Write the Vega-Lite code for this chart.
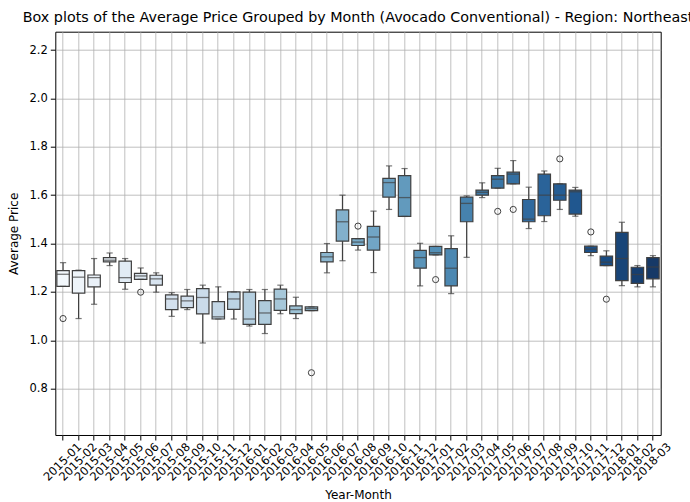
{
  "$schema": "https://vega.github.io/schema/vega-lite/v6.json",
  "autosize": {"type": "none"},
  "padding": {"left": 55.3, "top": 31.7, "right": 29.3, "bottom": 67},
  "width": 605.4,
  "height": 403.3,
  "title": {
    "text": "Box plots of the Average Price Grouped by Month (Avocado Conventional) - Region: Northeast",
    "font": "DejaVu Sans",
    "fontSize": 14.3,
    "fontWeight": "normal",
    "color": "#000000",
    "anchor": "middle",
    "baseline": "bottom",
    "offset": 4,
    "dy": 12
  },
  "config": {
    "view": {"stroke": "#000000", "strokeWidth": 1},
    "axis": {
      "labelFont": "DejaVu Sans",
      "titleFont": "DejaVu Sans",
      "labelFontSize": 11.5,
      "titleFontSize": 12,
      "titleFontWeight": "normal",
      "labelColor": "#000000",
      "titleColor": "#000000",
      "tickColor": "#000000",
      "tickSize": 5,
      "domain": false,
      "grid": true,
      "gridColor": "#b0b0b0",
      "gridWidth": 0.8
    }
  },
  "datasets": {
    "boxes": [
      {"month": "2015-01", "low": 1.223, "q1": 1.223, "median": 1.273, "q3": 1.288, "high": 1.321},
      {"month": "2015-02", "low": 1.09, "q1": 1.195, "median": 1.261, "q3": 1.288, "high": 1.29},
      {"month": "2015-03", "low": 1.149, "q1": 1.221, "median": 1.259, "q3": 1.27, "high": 1.338},
      {"month": "2015-04", "low": 1.309, "q1": 1.324, "median": 1.331, "q3": 1.342, "high": 1.361},
      {"month": "2015-05", "low": 1.211, "q1": 1.239, "median": 1.259, "q3": 1.327, "high": 1.338},
      {"month": "2015-06", "low": 1.252, "q1": 1.252, "median": 1.266, "q3": 1.277, "high": 1.299},
      {"month": "2015-07", "low": 1.199, "q1": 1.228, "median": 1.254, "q3": 1.269, "high": 1.279},
      {"month": "2015-08", "low": 1.099, "q1": 1.127, "median": 1.171, "q3": 1.188, "high": 1.197},
      {"month": "2015-09", "low": 1.127, "q1": 1.135, "median": 1.163, "q3": 1.183, "high": 1.21},
      {"month": "2015-10", "low": 0.989, "q1": 1.109, "median": 1.177, "q3": 1.214, "high": 1.228},
      {"month": "2015-11", "low": 1.088, "q1": 1.088, "median": 1.097, "q3": 1.16, "high": 1.221},
      {"month": "2015-12", "low": 1.088, "q1": 1.128, "median": 1.171, "q3": 1.2, "high": 1.2},
      {"month": "2016-01", "low": 1.059, "q1": 1.066, "median": 1.088, "q3": 1.199, "high": 1.21},
      {"month": "2016-02", "low": 1.028, "q1": 1.066, "median": 1.113, "q3": 1.164, "high": 1.21},
      {"month": "2016-03", "low": 1.11, "q1": 1.124, "median": 1.171, "q3": 1.212, "high": 1.228},
      {"month": "2016-04", "low": 1.09, "q1": 1.11, "median": 1.127, "q3": 1.142, "high": 1.178},
      {"month": "2016-05", "low": 1.123, "q1": 1.123, "median": 1.131, "q3": 1.138, "high": 1.138},
      {"month": "2016-06", "low": 1.279, "q1": 1.324, "median": 1.345, "q3": 1.363, "high": 1.4},
      {"month": "2016-07", "low": 1.329, "q1": 1.41, "median": 1.49, "q3": 1.539, "high": 1.6},
      {"month": "2016-08", "low": 1.373, "q1": 1.392, "median": 1.406, "q3": 1.42, "high": 1.42},
      {"month": "2016-09", "low": 1.28, "q1": 1.373, "median": 1.427, "q3": 1.471, "high": 1.534},
      {"month": "2016-10", "low": 1.541, "q1": 1.592, "median": 1.652, "q3": 1.669, "high": 1.721},
      {"month": "2016-11", "low": 1.512, "q1": 1.512, "median": 1.59, "q3": 1.681, "high": 1.71},
      {"month": "2016-12", "low": 1.225, "q1": 1.298, "median": 1.342, "q3": 1.372, "high": 1.401},
      {"month": "2017-01", "low": 1.353, "q1": 1.353, "median": 1.362, "q3": 1.388, "high": 1.388},
      {"month": "2017-02", "low": 1.193, "q1": 1.225, "median": 1.298, "q3": 1.379, "high": 1.432},
      {"month": "2017-03", "low": 1.343, "q1": 1.49, "median": 1.566, "q3": 1.592, "high": 1.597},
      {"month": "2017-04", "low": 1.59, "q1": 1.6, "median": 1.612, "q3": 1.621, "high": 1.651},
      {"month": "2017-05", "low": 1.629, "q1": 1.629, "median": 1.666, "q3": 1.681, "high": 1.711},
      {"month": "2017-06", "low": 1.647, "q1": 1.647, "median": 1.687, "q3": 1.695, "high": 1.743},
      {"month": "2017-07", "low": 1.462, "q1": 1.49, "median": 1.501, "q3": 1.582, "high": 1.633},
      {"month": "2017-08", "low": 1.491, "q1": 1.515, "median": 1.6, "q3": 1.687, "high": 1.7},
      {"month": "2017-09", "low": 1.541, "q1": 1.579, "median": 1.6, "q3": 1.647, "high": 1.647},
      {"month": "2017-10", "low": 1.513, "q1": 1.522, "median": 1.614, "q3": 1.621, "high": 1.632},
      {"month": "2017-11", "low": 1.35, "q1": 1.363, "median": 1.377, "q3": 1.389, "high": 1.389},
      {"month": "2017-12", "low": 1.309, "q1": 1.309, "median": 1.323, "q3": 1.348, "high": 1.37},
      {"month": "2018-01", "low": 1.226, "q1": 1.247, "median": 1.338, "q3": 1.446, "high": 1.488},
      {"month": "2018-02", "low": 1.221, "q1": 1.235, "median": 1.272, "q3": 1.302, "high": 1.309},
      {"month": "2018-03", "low": 1.221, "q1": 1.254, "median": 1.303, "q3": 1.342, "high": 1.35}
    ],
    "outliers": [
      {"month": "2015-01", "price": 1.09},
      {"month": "2015-06", "price": 1.199},
      {"month": "2016-05", "price": 0.866},
      {"month": "2016-08", "price": 1.472},
      {"month": "2017-01", "price": 1.251},
      {"month": "2017-05", "price": 1.533},
      {"month": "2017-06", "price": 1.541},
      {"month": "2017-09", "price": 1.75},
      {"month": "2017-11", "price": 1.448},
      {"month": "2017-12", "price": 1.17}
    ]
  },
  "encoding": {
    "x": {
      "field": "month",
      "type": "ordinal",
      "title": "Year-Month",
      "scale": {"paddingInner": 0, "paddingOuter": 0},
      "axis": {
        "labelAngle": -45,
        "labelAlign": "center",
        "labelBaseline": "middle",
        "labelPadding": 22,
        "titlePadding": 7
      }
    }
  },
  "layer": [
    {
      "data": {"name": "boxes"},
      "mark": {"type": "rule", "color": "#404040", "strokeWidth": 1.2},
      "encoding": {
        "y": {
          "field": "low",
          "type": "quantitative",
          "title": "Average Price",
          "scale": {"domain": [0.6086, 2.2757], "nice": false, "zero": false},
          "axis": {
            "values": [0.8, 1.0, 1.2, 1.4, 1.6, 1.8, 2.0, 2.2],
            "format": ".1f",
            "labelPadding": 3,
            "titlePadding": 9
          }
        },
        "y2": {"field": "high"}
      }
    },
    {
      "data": {"name": "boxes"},
      "mark": {"type": "bar", "width": {"band": 0.8}, "stroke": "#404040", "strokeWidth": 1.2},
      "encoding": {
        "y": {"field": "q1", "type": "quantitative", "title": "Average Price"},
        "y2": {"field": "q3"},
        "color": {
          "field": "month",
          "type": "ordinal",
          "legend": null,
          "scale": {
            "range": ["#f3f8fc", "#eff5fa", "#eaf1f8", "#e6eef6", "#e1ebf4", "#dde8f2", "#d8e4f0", "#d4e1ee", "#d0deec", "#cbdbea", "#c4d7e6", "#bcd3e3", "#b5cfe0", "#aecbdc", "#a6c7d9", "#9dc2d5", "#94bcd2", "#8bb6cf", "#82b0cc", "#78abc9", "#71a5c5", "#699fc1", "#629abd", "#5a94b9", "#538fb6", "#4c88b2", "#4682ae", "#407caa", "#3a76a6", "#3470a3", "#2f699e", "#2a6399", "#255d94", "#20578f", "#1b518a", "#194b81", "#184578", "#173f70", "#163967"]
          }
        }
      }
    },
    {
      "data": {"name": "boxes"},
      "mark": {"type": "tick", "orient": "horizontal", "size": 12.4, "thickness": 1.3, "color": "#404040"},
      "encoding": {
        "y": {"field": "median", "type": "quantitative", "title": "Average Price"}
      }
    },
    {
      "data": {"name": "boxes"},
      "mark": {"type": "tick", "orient": "horizontal", "size": 6.2, "thickness": 1.2, "color": "#404040"},
      "encoding": {
        "y": {"field": "low", "type": "quantitative", "title": "Average Price"}
      }
    },
    {
      "data": {"name": "boxes"},
      "mark": {"type": "tick", "orient": "horizontal", "size": 6.2, "thickness": 1.2, "color": "#404040"},
      "encoding": {
        "y": {"field": "high", "type": "quantitative", "title": "Average Price"}
      }
    },
    {
      "data": {"name": "outliers"},
      "mark": {"type": "point", "shape": "circle", "filled": false, "size": 38, "stroke": "#404040", "strokeWidth": 1, "opacity": 1},
      "encoding": {
        "y": {"field": "price", "type": "quantitative", "title": "Average Price"}
      }
    }
  ]
}
